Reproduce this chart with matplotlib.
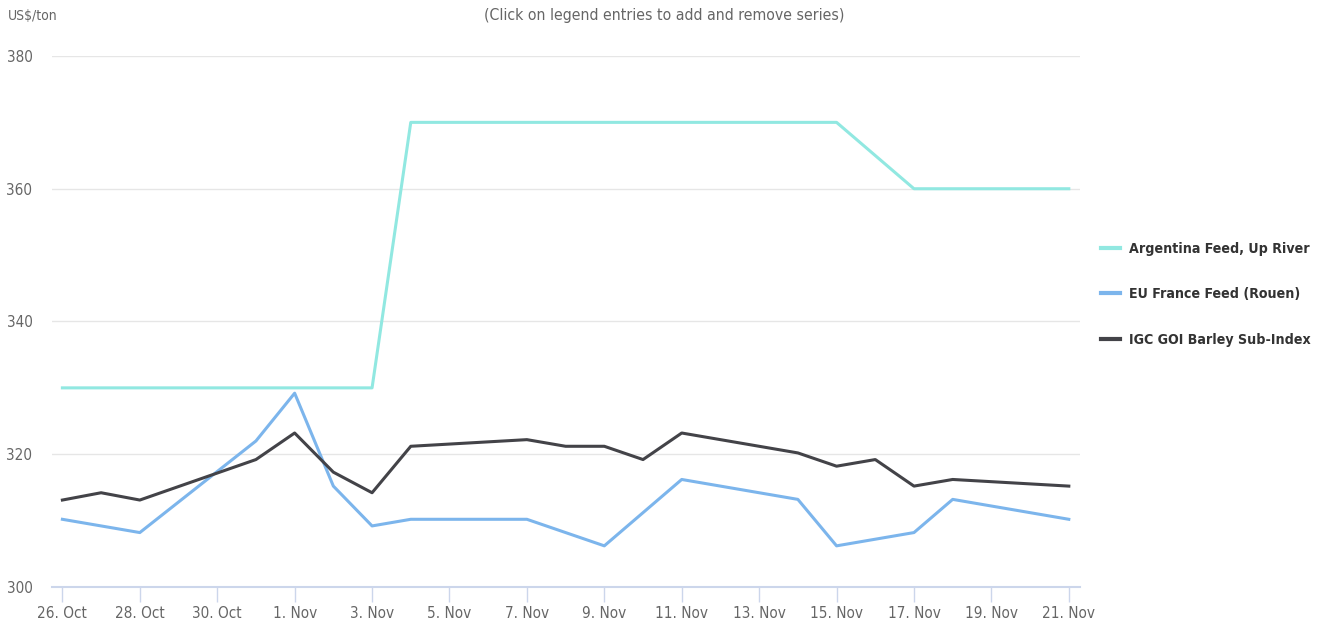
import numpy as np
import matplotlib
matplotlib.use("Agg")
import matplotlib.pyplot as plt
import datetime as dt

# the reference uses a narrow sans; condensed face where one is installed
plt.rcParams['font.family'] = ['Liberation Sans Narrow', 'DejaVu Sans']
plt.rcParams['font.stretch'] = 'condensed'

# trading days (weekends skipped)
dates = ['2022-10-26', '2022-10-27', '2022-10-28', '2022-10-31', '2022-11-01',
         '2022-11-02', '2022-11-03', '2022-11-04', '2022-11-07', '2022-11-08',
         '2022-11-09', '2022-11-10', '2022-11-11', '2022-11-14', '2022-11-15',
         '2022-11-16', '2022-11-17', '2022-11-18', '2022-11-21']

argentina = [330, 330, 330, 330, 330, 330, 330, 370, 370, 370,
             370, 370, 370, 370, 370, 365, 360, 360, 360]
eu_france = [310.2, 309.2, 308.2, 322.0, 329.2, 315.2, 309.2, 310.2, 310.2, 308.2,
             306.2, 311.2, 316.2, 313.2, 306.2, 307.2, 308.2, 313.2, 310.2]
igc_goi = [313.1, 314.2, 313.1, 319.2, 323.2, 317.3, 314.2, 321.2, 322.2, 321.2,
           321.2, 319.2, 323.2, 320.2, 318.2, 319.2, 315.2, 316.2, 315.2]

series_names = ['Argentina Feed, Up River', 'EU France Feed (Rouen)', 'IGC GOI Barley Sub-Index']
colors = ['#91e8e1', '#7cb5ec', '#434348']

tick_dates = ['2022-10-26', '2022-10-28', '2022-10-30', '2022-11-01', '2022-11-03',
              '2022-11-05', '2022-11-07', '2022-11-09', '2022-11-11', '2022-11-13',
              '2022-11-15', '2022-11-17', '2022-11-19', '2022-11-21']
tick_labels = ['26. Oct', '28. Oct', '30. Oct', '1. Nov', '3. Nov', '5. Nov', '7. Nov',
               '9. Nov', '11. Nov', '13. Nov', '15. Nov', '17. Nov', '19. Nov', '21. Nov']

x = [dt.datetime.strptime(d, '%Y-%m-%d') for d in dates]
xt = [dt.datetime.strptime(d, '%Y-%m-%d') for d in tick_dates]

fig = plt.figure(figsize=(13.31, 6.27), dpi=100)
ax = fig.add_axes([0.039, 0.0638, 0.7725, 0.8469])

for vals, name, c in zip([argentina, eu_france, igc_goi], series_names, colors):
    ax.plot(x, vals, color=c, lw=2.2, label=name, solid_joinstyle='round')

ax.set_ylim(300, 380)
ax.set_yticks([300, 320, 340, 360, 380])
ax.set_xlim(x[0] - dt.timedelta(hours=6.5), x[-1] + dt.timedelta(hours=7))
ax.set_xticks(xt)
ax.set_xticklabels(tick_labels)

ax.grid(axis='y', color='#e6e6e6', lw=1)
ax.set_axisbelow(True)
for s in ['top', 'right', 'left']:
    ax.spines[s].set_visible(False)
ax.spines['bottom'].set_color('#ccd6eb')
ax.spines['bottom'].set_linewidth(1.5)
ax.tick_params(axis='x', colors='#ccd6eb', length=11, width=1, labelcolor='#666666',
               labelsize=11, pad=3)
ax.tick_params(axis='y', length=0, labelcolor='#666666', labelsize=11, pad=14)

fig.text(0.006, 0.975, 'US$/ton', color='#666666', fontsize=10, va='center')
fig.text(0.499, 0.975, '(Click on legend entries to add and remove series)',
         color='#666666', fontsize=11.3, ha='center', va='center')

leg = ax.legend(loc='center left', bbox_to_anchor=(1.008, 0.551), frameon=False,
                fontsize=10.2, handlelength=1.37, labelspacing=2.2, handletextpad=0.6)
for t in leg.get_texts():
    t.set_color('#333333')
    t.set_fontweight('bold')
for h in leg.get_lines():
    h.set_linewidth(3)

fig.savefig('out.png', dpi=100)
